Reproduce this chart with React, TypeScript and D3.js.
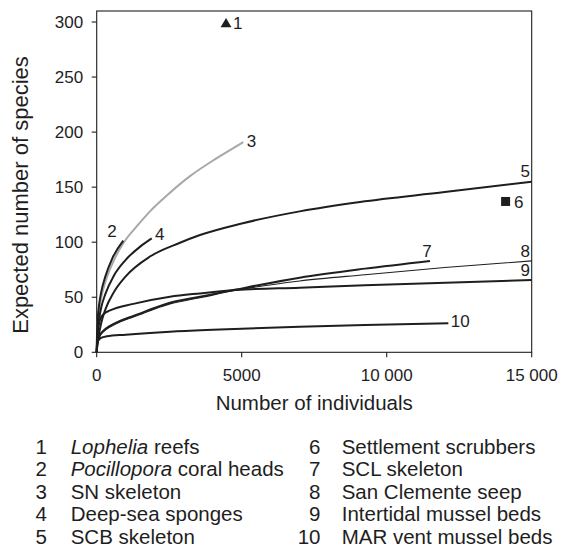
import React from "react";
import * as d3 from "d3";

// ---------- data ----------
const xTicks = [0, 5000, 10000, 15000];
const xTickLabels = ["0", "5000", "10 000", "15 000"];
const yTicks = [0, 50, 100, 150, 200, 250, 300];

const xTitle = "Number of individuals";
const yTitle = "Expected number of species";

// single-point samples [individuals, species]
const lopheliaPoint: [number, number] = [4460, 298];
const scrubbersPoint: [number, number] = [14100, 137];

// rarefaction curves [individuals, expected species]
const pocilloporaCurve: [number, number][] = [[0, 0], [20, 25], [60, 38], [150, 54], [300, 69], [550, 86], [917, 101.5]];
const snSkeletonCurve: [number, number][] = [[0, 0], [20, 22], [60, 34], [150, 49], [300, 64], [600, 84], [917, 99], [1400, 115], [1838, 128], [2400, 142], [3217, 160], [4000, 174], [4366, 180], [5057, 191]];
const spongesCurve: [number, number][] = [[0, 0], [20, 15], [60, 26], [150, 40], [300, 53], [600, 70], [1000, 84], [1500, 96], [1897, 103.5]];
const scbSkeletonCurve: [number, number][] = [[0, 0], [20, 7], [60, 14], [150, 26], [300, 39], [600, 55], [1000, 69], [1838, 87], [2872, 99.5], [3562, 106.5], [5000, 117], [7000, 128], [9080, 136.5], [12000, 145.5], [15000, 155]];
const sclSkeletonCurve: [number, number][] = [[0, 0], [30, 8], [100, 15], [250, 20], [460, 24], [800, 28.5], [1264, 33], [2528, 45], [3562, 50.5], [4800, 57], [7000, 67.8], [9250, 76], [11493, 83]];
const sanClementeCurve: [number, number][] = [[0, 0], [30, 7], [100, 14], [250, 19], [460, 23], [800, 27.5], [1264, 32], [2528, 44], [3562, 49.5], [4800, 56.3], [7000, 64.8], [9250, 70.5], [12000, 77], [15000, 83]];
const intertidalCurve: [number, number][] = [[0, 0], [15, 10], [50, 21], [120, 30], [250, 35], [460, 38], [1264, 44], [2528, 50.5], [3562, 53.5], [4800, 56.5], [7000, 58.7], [9250, 61], [15000, 65.7]];
const marVentCurve: [number, number][] = [[0, 0], [15, 7], [50, 10.5], [150, 13], [345, 14.5], [1000, 16], [2528, 18.7], [4000, 20.5], [7000, 23.3], [9250, 24.8], [12126, 26.3]];

const legendNumbers = ["1", "2", "3", "4", "5", "6", "7", "8", "9", "10"];
const legendItalic = ["Lophelia", "Pocillopora", "", "", "", "", "", "", "", ""];
const legendRest = [" reefs", " coral heads", "SN skeleton", "Deep-sea sponges", "SCB skeleton", "Settlement scrubbers", "SCL skeleton", "San Clemente seep", "Intertidal mussel beds", "MAR vent mussel beds"];

// ---------- styles / layout ----------
const W = 564;
const H = 550;
const FONT = "'Liberation Sans', Arial, Helvetica, sans-serif";
const INK = "#1e1e1e";

const x = d3.scaleLinear().domain([0, 15000]).range([96.7, 531.7]);
const y = d3.scaleLinear().domain([0, 310]).range([352.3, 11]);

const line = d3
  .line<[number, number]>()
  .x((d) => x(d[0]))
  .y((d) => y(d[1]))
  .curve(d3.curveMonotoneX);

type Series = {
  id: string;
  data: [number, number][];
  color: string;
  width: number;
  anchor: "start" | "end";
  dx: number;
  dy: number;
};

const series: Series[] = [
  { id: "3", data: snSkeletonCurve, color: "#a8a8a8", width: 2, anchor: "start", dx: 3.4, dy: 5 },
  { id: "10", data: marVentCurve, color: INK, width: 2, anchor: "start", dx: 2.4, dy: 3.6 },
  { id: "9", data: intertidalCurve, color: INK, width: 2, anchor: "end", dx: -1.7, dy: -4.3 },
  { id: "8", data: sanClementeCurve, color: INK, width: 1.1, anchor: "end", dx: -1.7, dy: -4.3 },
  { id: "7", data: sclSkeletonCurve, color: INK, width: 2, anchor: "end", dx: 1.7, dy: -4.3 },
  { id: "5", data: scbSkeletonCurve, color: INK, width: 2, anchor: "end", dx: -1.7, dy: -4.3 },
  { id: "4", data: spongesCurve, color: INK, width: 2, anchor: "start", dx: 3.3, dy: 1.7 },
  { id: "2", data: pocilloporaCurve, color: INK, width: 2, anchor: "end", dx: -6.5, dy: -3.4 },
];

const triangle = d3.symbol().type(d3.symbolTriangle).size(52)() as string;
const square = d3.symbol().type(d3.symbolSquare).size(81)() as string;

export default function App() {
  const [x0, x1] = x.range();
  const [y0, y1] = y.range();
  const rowGap = 22.5;
  const firstRow = 453.5;
  return (
    <svg
      width={W}
      height={H}
      viewBox={`0 0 ${W} ${H}`}
      style={{ position: "absolute", left: 0, top: 0, background: "#fff" }}
      fontFamily={FONT}
    >
      <rect x={0} y={0} width={W} height={H} fill="#fff" />

      {/* frame */}
      <rect x={x0} y={y1} width={x1 - x0} height={y0 - y1} fill="none" stroke={INK} strokeWidth={1.1} />

      {/* y axis ticks */}
      {yTicks.map((t) => (
        <g key={"y" + t}>
          <line x1={x0 - 5} x2={x0} y1={y(t)} y2={y(t)} stroke={INK} strokeWidth={1.1} />
          <text x={x0 - 13.5} y={y(t)} dy="0.35em" textAnchor="end" fontSize={17} fill={INK}>
            {t}
          </text>
        </g>
      ))}

      {/* x axis ticks */}
      {xTicks.map((t, i) => (
        <g key={"x" + t}>
          <line x1={x(t)} x2={x(t)} y1={y0} y2={y0 + 5} stroke={INK} strokeWidth={1.1} />
          <text x={x(t)} y={y0 + 28.3} textAnchor="middle" fontSize={17} fill={INK}>
            {xTickLabels[i]}
          </text>
        </g>
      ))}

      {/* axis titles */}
      <text x={(x0 + x1) / 2} y={410} textAnchor="middle" fontSize={20.5} fill={INK}>
        {xTitle}
      </text>
      <text
        transform={`translate(28,195) rotate(-90)`}
        textAnchor="middle"
        fontSize={22}
        fill={INK}
      >
        {yTitle}
      </text>

      {/* curves */}
      {series.map((s) => {
        const last = s.data[s.data.length - 1];
        return (
          <g key={"s" + s.id}>
            <path d={line(s.data) as string} fill="none" stroke={s.color} strokeWidth={s.width} strokeLinejoin="round" />
            <text
              x={x(last[0]) + s.dx}
              y={y(last[1]) + s.dy}
              textAnchor={s.anchor}
              fontSize={17}
              fill={INK}
            >
              {s.id}
            </text>
          </g>
        );
      })}

      {/* single points */}
      <path d={triangle} transform={`translate(${x(lopheliaPoint[0])},${y(lopheliaPoint[1])})`} fill={INK} />
      <text x={x(lopheliaPoint[0]) + 7} y={y(lopheliaPoint[1]) + 4.8} fontSize={17} fill={INK}>
        {legendNumbers[0]}
      </text>
      <path d={square} transform={`translate(${x(scrubbersPoint[0])},${y(scrubbersPoint[1])})`} fill={INK} />
      <text x={x(scrubbersPoint[0]) + 8.3} y={y(scrubbersPoint[1]) + 6.5} fontSize={17} fill={INK}>
        {legendNumbers[5]}
      </text>

      {/* legend */}
      {legendNumbers.map((num, i) => {
        const col = i < 5 ? 0 : 1;
        const row = i % 5;
        const numX = col === 0 ? 47 : 320.5;
        const textX = col === 0 ? 70.7 : 341.7;
        const ty = firstRow + row * rowGap;
        return (
          <g key={"l" + num}>
            <text x={numX} y={ty} textAnchor="end" fontSize={20.5} fill={INK}>
              {num}
            </text>
            <text x={textX} y={ty} fontSize={20.5} fill={INK}>
              {legendItalic[i] ? <tspan fontStyle="italic">{legendItalic[i]}</tspan> : null}
              {legendRest[i]}
            </text>
          </g>
        );
      })}
    </svg>
  );
}
